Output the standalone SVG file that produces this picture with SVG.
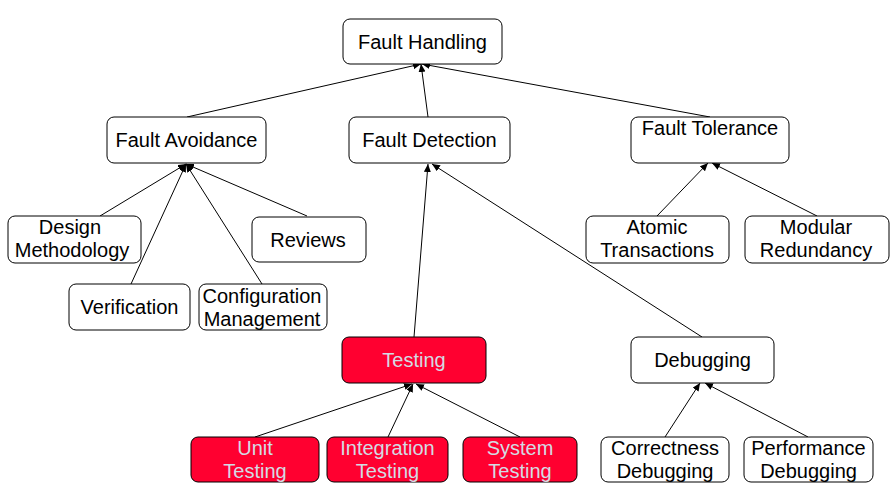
<svg xmlns="http://www.w3.org/2000/svg" width="894" height="496" viewBox="0 0 894 496">
<defs>
<style>
rect{fill:#fff;stroke:#000;stroke-width:1}
.red rect{fill:#ff0030}
text{font-family:"Liberation Sans",Arial,sans-serif;font-size:20px;fill:#000;text-anchor:middle}
.red text{fill:#d3dbe3}
#connectors line{stroke:#000;stroke-width:1;marker-end:url(#arr)}
</style>
<marker id="arr" markerWidth="9" markerHeight="8" refX="8" refY="3.5" orient="auto" markerUnits="userSpaceOnUse">
<path d="M0,0 L8,3.5 L0,7 z" fill="#000"/>
</marker>
</defs>
<rect x="0" y="0" width="894" height="496" style="fill:#fff;stroke:none"/>
<g id="connectors">
<line x1="187" y1="117" x2="421" y2="64"/>
<line x1="428" y1="117" x2="421" y2="64"/>
<line x1="710" y1="117" x2="422" y2="64"/>
<line x1="100" y1="216" x2="186" y2="164"/>
<line x1="307" y1="216" x2="186" y2="164"/>
<line x1="131" y1="284" x2="186" y2="164"/>
<line x1="262" y1="284" x2="186" y2="164"/>
<line x1="414" y1="337" x2="428" y2="164"/>
<line x1="702" y1="337" x2="432" y2="164"/>
<line x1="255" y1="437" x2="412" y2="384"/>
<line x1="388" y1="437" x2="413" y2="384"/>
<line x1="520" y1="437" x2="416" y2="384"/>
<line x1="657" y1="216" x2="708" y2="163"/>
<line x1="817" y1="216" x2="712" y2="163"/>
<line x1="665" y1="437" x2="700" y2="383"/>
<line x1="808" y1="437" x2="705" y2="383"/>
</g>
<g id="fault-handling"><rect x="343" y="19" width="159" height="45" rx="7"/><text x="422.5" y="49">Fault Handling</text></g>
<g id="fault-avoidance"><rect x="107" y="117" width="159" height="46" rx="7"/><text x="186.5" y="147">Fault Avoidance</text></g>
<g id="fault-detection"><rect x="349" y="117" width="161" height="46" rx="7"/><text x="429.5" y="147">Fault Detection</text></g>
<g id="fault-tolerance"><rect x="631" y="117" width="158" height="46" rx="7"/><text x="710" y="135">Fault Tolerance</text></g>
<g id="design-methodology"><rect x="8" y="216" width="133" height="47" rx="7"/><text x="70" y="234">Design</text><text x="72" y="257">Methodology</text></g>
<g id="reviews"><rect x="252" y="217" width="114" height="45" rx="7"/><text x="308" y="247">Reviews</text></g>
<g id="verification"><rect x="69" y="284" width="121" height="46" rx="7"/><text x="129.5" y="314">Verification</text></g>
<g id="configuration-management"><rect x="199" y="284" width="128" height="46" rx="7"/><text x="262" y="303">Configuration</text><text x="262" y="326">Management</text></g>
<g id="atomic-transactions"><rect x="586" y="216" width="143" height="47" rx="7"/><text x="657" y="234">Atomic</text><text x="657" y="257">Transactions</text></g>
<g id="modular-redundancy"><rect x="745" y="216" width="144" height="47" rx="7"/><text x="816" y="234">Modular</text><text x="816" y="257">Redundancy</text></g>
<g id="testing" class="red"><rect x="342" y="337" width="144" height="46" rx="7"/><text x="414" y="367">Testing</text></g>
<g id="debugging"><rect x="631" y="337" width="143" height="46" rx="7"/><text x="702.5" y="367">Debugging</text></g>
<g id="unit-testing" class="red"><rect x="191" y="437" width="128" height="45" rx="7"/><text x="255" y="455">Unit</text><text x="255" y="478">Testing</text></g>
<g id="integration-testing" class="red"><rect x="327" y="437" width="121" height="45" rx="7"/><text x="387.5" y="455">Integration</text><text x="387.5" y="478">Testing</text></g>
<g id="system-testing" class="red"><rect x="463" y="437" width="114" height="45" rx="7"/><text x="520" y="455">System</text><text x="520" y="478">Testing</text></g>
<g id="correctness-debugging"><rect x="601" y="437" width="128" height="45" rx="7"/><text x="665" y="455">Correctness</text><text x="665" y="478">Debugging</text></g>
<g id="performance-debugging"><rect x="744" y="437" width="129" height="45" rx="7"/><text x="808.5" y="455">Performance</text><text x="808.5" y="478">Debugging</text></g>
</svg>
